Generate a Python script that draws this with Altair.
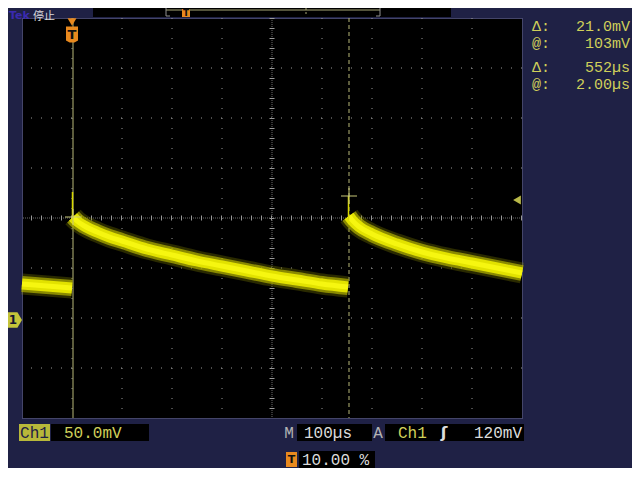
import altair as alt
import pandas as pd

# ---------------- data read from the screen ----------------
# time in microseconds, voltage in millivolts (Ch1 ground = 0 mV)
pre_t = [-100, -75, -50, -25, 0]
pre_v = [36, 35, 34, 33, 32]
rise1_t = [2, 10, 25, 50, 75, 100, 150, 200, 250, 300, 350, 400, 450, 500, 552]
rise1_v = [103, 99, 94, 88, 83, 79, 71, 65, 59, 54, 49, 44, 40, 36, 33]
rise2_t = [554, 560, 575, 600, 650, 700, 750, 800, 850, 900]
rise2_v = [104, 100, 93, 86, 76, 68, 62, 57, 52, 47]
spike_t = [1, 553]
spike_lo = [98, 100]
spike_hi = [128, 124]
cursor_t = [2, 554]
cursor_v = [103, 124]
trigger_t = [0]
trigger_level = [120]
ground_level = [0]
div_t = [0, 100, 200, 300, 500, 600, 700, 800]
center_t = [400]
div_v = [-48, 2, 52, 152, 202, 252]
center_v = [102]
readout_sym = ["Δ:", "@:", "Δ:", "@:"]
readout_val = ["21.0mV", "103mV", "552µs", "2.00µs"]
status = ["Tek", "停止"]
ch_label = "Ch1"
ch_scale = "50.0mV"
timebase = "100µs"
trig_src = "Ch1"
trig_lvl = "120mV"
trig_pos = "10.00 %"

# ---------------- styles ----------------
NAVY = "#1f2145"
KHAKI = "#d0d05a"
LGRAY = "#dcdcdc"
GRAY = "#b4b4b4"
ORANGE = "#e8891e"
CUR = "#b8b878"
GRID = "#9a9a9a"
MONO = "Liberation Mono"
CJK = "Noto Sans CJK SC"

XS = alt.Scale(domain=[-100, 900], nice=False, zero=False)
YS = alt.Scale(domain=[-98, 302], nice=False, zero=False)
ONE = alt.Data(values=[{"k": 0}])


def X(f="t"):
    return alt.X(f"{f}:Q", scale=XS, axis=None)


def Y(f="v"):
    return alt.Y(f"{f}:Q", scale=YS, axis=None)


def px(x):
    return alt.value(x - 22)


def py(y):
    return alt.value(y - 18)


def rect(x1, y1, x2, y2, color):
    return alt.Chart(ONE).mark_rect(color=color).encode(
        x=px(x1), x2=px(x2), y=py(y1), y2=py(y2))


def text(s, x, y, color, size=16, align="left", font=MONO, weight="normal", baseline="middle"):
    return alt.Chart(ONE).mark_text(
        text=s, color=color, fontSize=size, align=align, baseline=baseline,
        font=font, fontWeight=weight).encode(x=px(x), y=py(y))


def seg(x1, y1, x2, y2, color, dash=None, width=1):
    kw = dict(color=color, strokeWidth=width)
    if dash:
        kw["strokeDash"] = dash
    return alt.Chart(ONE).mark_rule(**kw).encode(
        x=px(x1), x2=px(x2), y=py(y1), y2=py(y2))


layers = []

# ---------------- graticule ----------------
layers.append(alt.Chart(pd.DataFrame({"t": div_t})).mark_rule(
    color=GRID, strokeDash=[1, 9], strokeWidth=1).encode(x=X()))
layers.append(alt.Chart(pd.DataFrame({"v": div_v})).mark_rule(
    color=GRID, strokeDash=[1, 9], strokeWidth=1).encode(y=Y()))
# centre lines: fine dots + ticks
layers.append(alt.Chart(pd.DataFrame({"t": center_t})).mark_rule(
    color=GRID, strokeDash=[1, 1], strokeWidth=1, opacity=0.7).encode(x=X()))
layers.append(alt.Chart(pd.DataFrame({"t": center_t})).mark_rule(
    color=GRID, strokeDash=[1, 9], strokeWidth=5).encode(x=X()))
layers.append(alt.Chart(pd.DataFrame({"v": center_v})).mark_rule(
    color=GRID, strokeDash=[1, 1], strokeWidth=1, opacity=0.7).encode(y=Y()))
layers.append(alt.Chart(pd.DataFrame({"v": center_v})).mark_rule(
    color=GRID, strokeDash=[1, 9], strokeWidth=5).encode(y=Y()))

# ---------------- cursors (under the trace) ----------------
layers.append(alt.Chart(pd.DataFrame({"t": cursor_t[:1]})).mark_rule(
    color=CUR, strokeWidth=1).encode(x=X()))
layers.append(alt.Chart(pd.DataFrame({"t": cursor_t[1:]})).mark_rule(
    color=CUR, strokeWidth=1, strokeDash=[4, 3]).encode(x=X()))

# ---------------- trace ----------------
rows = []
for s, (ts, vs) in enumerate([(pre_t, pre_v), (rise1_t, rise1_v), (rise2_t, rise2_v)]):
    for i, (t, v) in enumerate(zip(ts, vs)):
        rows.append({"seg": s, "i": i, "t": t, "v": v})
trace = pd.DataFrame(rows)


def trace_line(width, color, opacity):
    return alt.Chart(trace).mark_line(
        strokeWidth=width, color=color, opacity=opacity, strokeCap="butt",
        interpolate="monotone").encode(
        x=X(), y=Y(), detail="seg:N", order="i:Q")


layers.append(trace_line(21, "#8c8c00", 0.3))
layers.append(trace_line(16, "#b4b400", 0.7))
layers.append(trace_line(11, "#e2e200", 1.0))
layers.append(trace_line(5, "#f6f610", 1.0))
layers.append(alt.Chart(pd.DataFrame({"t": spike_t, "lo": spike_lo, "hi": spike_hi})).mark_rule(
    color="#d8d800", strokeWidth=1.5).encode(x=X(), y=Y("lo"), y2="hi:Q"))

# cursor crosshairs
layers.append(alt.Chart(pd.DataFrame({"t": cursor_t, "v": cursor_v})).mark_point(
    shape="M-1,0L1,0M0,-1L0,1", filled=False, size=256, strokeWidth=1,
    color="#c8c878", opacity=1).encode(x=X(), y=Y()))

# trigger position marker (T) at top
layers.append(alt.Chart(pd.DataFrame({"t": trigger_t})).mark_point(
    shape="triangle-down", filled=True, size=80, color=ORANGE, opacity=1).encode(
    x=X(), y=py(22)))
layers.append(alt.Chart(pd.DataFrame({"t": trigger_t})).mark_point(
    shape="M-0.75,-1L0.75,-1L0.75,0.75L0.3,1L-0.3,1L-0.75,0.75Z", filled=True,
    size=256, color=ORANGE, opacity=1).encode(x=X(), y=py(34.5)))
layers.append(alt.Chart(pd.DataFrame({"t": trigger_t})).mark_text(
    text="T", color="#101010", fontSize=13, fontWeight="bold", font="DejaVu Sans",
    baseline="middle").encode(x=X(), y=py(34.5)))

# trigger level arrow on the right
layers.append(alt.Chart(pd.DataFrame({"v": trigger_level})).mark_point(
    shape="triangle-left", filled=True, size=80, color="#b8b848", opacity=1).encode(
    x=px(517), y=Y()))

# ground marker "1" on the left
layers.append(alt.Chart(pd.DataFrame({"v": ground_level})).mark_point(
    shape="M-1,-1.1L0.35,-1.1L1,0L0.35,1.1L-1,1.1Z", filled=True, size=196,
    color="#c4c43a", opacity=1).encode(x=px(15), y=Y()))
layers.append(alt.Chart(pd.DataFrame({"v": ground_level})).mark_text(
    text="1", color="#151530", fontSize=12, fontWeight="bold", font="DejaVu Sans",
    baseline="middle").encode(x=px(13), y=Y()))

# ---------------- header ----------------
layers.append(text(status[0], 9, 10, "#3a2ab0", size=11, font="DejaVu Sans", weight="bold", baseline="top"))
layers.append(text(status[1], 33, 11, LGRAY, size=11, font=CJK, baseline="top"))
layers.append(rect(93, 8, 451, 17, "#000000"))
layers.append(seg(166, 10, 380, 10, "#a8a878"))
layers.append(seg(166, 8, 166, 16, "#909090"))
layers.append(seg(166, 16, 170, 16, "#909090"))
layers.append(seg(380, 8, 380, 16, "#909090"))
layers.append(seg(376, 16, 380, 16, "#909090"))
layers.append(seg(306, 8, 306, 16, "#a8a878", dash=[2, 2]))
layers.append(rect(182, 9, 190, 17, ORANGE))
layers.append(text("T", 186, 13, "#101010", size=9, align="center", font="DejaVu Sans", weight="bold"))

# ---------------- right readouts ----------------
for s, v, y in zip(readout_sym, readout_val, [26, 43, 67, 84]):
    layers.append(text(s, 532, y, KHAKI, size=15))
    layers.append(text(v, 630, y, KHAKI, size=15, align="right"))

# ---------------- bottom bar ----------------
layers.append(rect(19, 424, 50, 441, "#b8b83a"))
layers.append(text(ch_label, 34.5, 433, "#1f2145", size=16, align="center"))
layers.append(rect(51, 424, 149, 441, "#000000"))
layers.append(text(ch_scale, 64, 433, KHAKI, size=16))
layers.append(text("M", 289, 433, GRAY, size=16, align="center"))
layers.append(rect(297, 424, 372, 441, "#000000"))
layers.append(text(timebase, 304, 433, LGRAY, size=16))
layers.append(text("A", 378, 433, GRAY, size=16, align="center"))
layers.append(rect(385, 424, 524, 441, "#000000"))
layers.append(text(trig_src, 398, 433, KHAKI, size=16))
layers.append(text("ʃ", 444, 433, LGRAY, size=16, align="center", font="DejaVu Sans", weight="bold"))
layers.append(text(trig_lvl, 522, 433, LGRAY, size=16, align="right"))

# trigger position readout
layers.append(rect(286, 452, 297, 467, ORANGE))
layers.append(text("T", 291.5, 459.5, "#101010", size=11, align="center", font="DejaVu Sans", weight="bold"))
layers.append(rect(299, 451, 375, 468, "#000000"))
layers.append(text(trig_pos, 302, 459.5, LGRAY, size=16))

chart = alt.layer(*layers).properties(
    width=500,
    height=400,
    padding={"left": 14, "top": 10, "right": 110, "bottom": 50},
    autosize=alt.AutoSizeParams(type="none"),
    background=NAVY,
).configure_view(fill="black", stroke="#7a7ab0", strokeDash=[1, 1], strokeWidth=1)

chart.save("out.html", embed_options={"renderer": "svg", "actions": False})
